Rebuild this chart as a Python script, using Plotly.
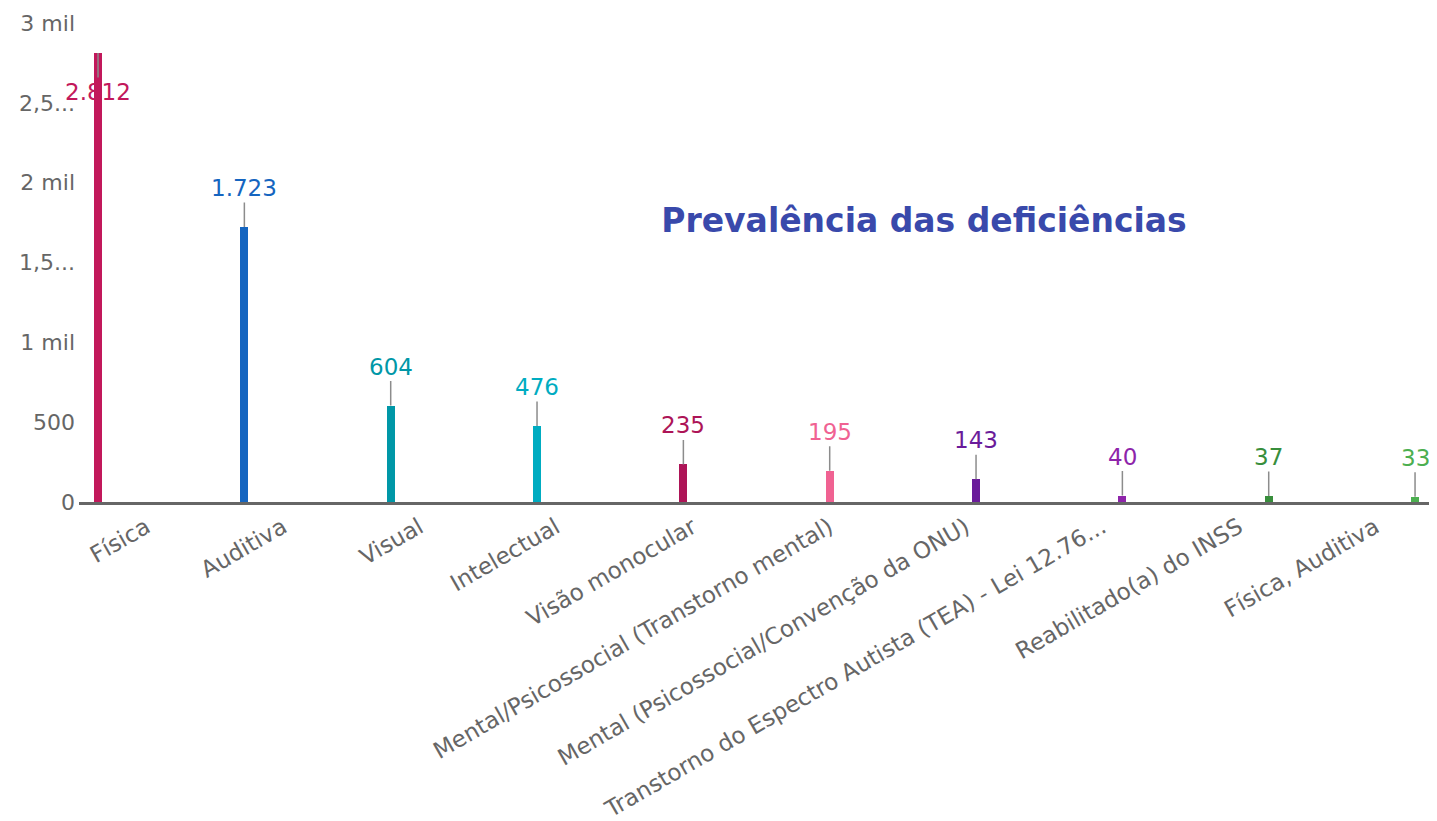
import plotly.graph_objects as go

categories = [
    "Física",
    "Auditiva",
    "Visual",
    "Intelectual",
    "Visão monocular",
    "Mental/Psicossocial (Transtorno mental)",
    "Mental (Psicossocial/Convenção da ONU)",
    "Transtorno do Espectro Autista (TEA) - Lei 12.76...",
    "Reabilitado(a) do INSS",
    "Física, Auditiva",
]
values = [2812, 1723, 604, 476, 235, 195, 143, 40, 37, 33]
colors = [
    "#C2185B", "#1565C0", "#0097A7", "#00ACC1", "#AD1457",
    "#F06292", "#6A1B9A", "#8E24AA", "#388E3C", "#4CAF50",
]
tick_vals = [0, 500, 1000, 1500, 2000, 2500, 3000]
tick_text = ["0", "500", "1 mil", "1,5...", "2 mil", "2,5...", "3 mil"]
title_text = "Prevalência das deficiências"

FONT = "DejaVu Sans"

# page body has an 8px default margin; the figure is sized to fit the window
W, H = 1429, 813

fig = go.Figure()
fig.add_trace(go.Bar(
    x=list(range(len(categories))),
    y=values,
    marker=dict(color=colors, line=dict(width=0)),
    width=0.055,
    hoverinfo="y",
))


def fmt(v):
    return f"{v:,}".replace(",", ".")


top = max(values)
for i, (v, c) in enumerate(zip(values, colors)):
    below = v == top
    fig.add_annotation(
        x=i, y=v, xref="x", yref="y",
        text=fmt(v),
        showarrow=True, arrowhead=0, arrowwidth=1.5, arrowcolor="#8c8c8c",
        ax=0, ay=39 if below else -39, standoff=0,
        font=dict(family=FONT, size=23, color=c),
    )

# category labels are spread slightly tighter than the bars, as in the source
label_positions = [0.33 + 0.933 * i for i in range(len(categories))]

fig.update_layout(
    width=W, height=H,
    margin=dict(l=71, r=0, t=15, b=319),
    paper_bgcolor="white", plot_bgcolor="white",
    showlegend=False,
    bargap=0,
    font=dict(family=FONT, color="#666666"),
    title=dict(
        text=title_text,
        x=916 / W, xanchor="center", xref="container",
        y=1 - 212 / H, yanchor="middle", yref="container",
        font=dict(family=FONT, size=33, color="#3949AB", weight="bold"),
    ),
    xaxis=dict(
        range=[-0.13, 9.15],
        tickmode="array",
        tickvals=label_positions,
        ticktext=categories,
        tickangle=-30,
        tickfont=dict(family=FONT, size=23, color="#666666"),
        showgrid=False, zeroline=False,
        showline=True, linecolor="#666666", linewidth=3,
        ticks="",
        automargin=False,
    ),
    yaxis=dict(
        range=[0, 3000],
        tickmode="array",
        tickvals=tick_vals,
        ticktext=tick_text,
        tickfont=dict(family=FONT, size=22, color="#666666"),
        ticklabelstandoff=3,
        showgrid=False, zeroline=False, showline=False,
        ticks="",
        automargin=False,
    ),
)

fig.write_html("out.html")
